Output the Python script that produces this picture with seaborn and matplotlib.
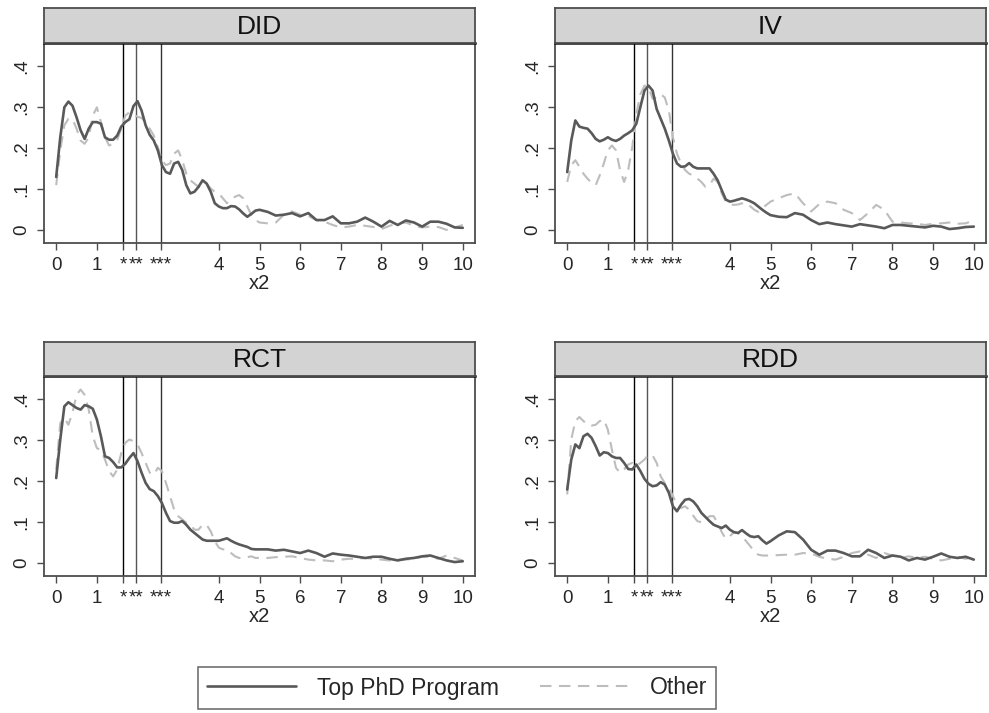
import numpy as np
import pandas as pd
import matplotlib
matplotlib.use("Agg")
import matplotlib.pyplot as plt
from matplotlib.lines import Line2D
import seaborn as sns

# ---------------- data ----------------
x_grid = [round(v, 1) for v in list(np.arange(0, 5.05, 0.1))] + \
         [5.2, 5.4, 5.6, 5.8, 6.0, 6.2, 6.4, 6.6, 6.8, 7.0, 7.2, 7.4, 7.6, 7.8,
          8.0, 8.2, 8.4, 8.6, 8.8, 9.0, 9.2, 9.4, 9.6, 9.8, 10.0]

panels = ["DID", "IV", "RCT", "RDD"]
groups = ["Top PhD Program", "Other"]

did_top = [0.129, 0.226, 0.299, 0.313, 0.303, 0.275, 0.243, 0.222, 0.247, 0.263,
           0.263, 0.259, 0.226, 0.220, 0.220, 0.230, 0.252, 0.263, 0.270, 0.302,
           0.314, 0.291, 0.255, 0.232, 0.218, 0.194, 0.158, 0.141, 0.137, 0.162,
           0.166, 0.146, 0.109, 0.089, 0.093, 0.105, 0.121, 0.113, 0.093, 0.065,
           0.057, 0.053, 0.053, 0.058, 0.057, 0.050, 0.040, 0.032, 0.039, 0.047,
           0.049, 0.044, 0.035, 0.037, 0.041, 0.033, 0.041, 0.024, 0.024, 0.033,
           0.016, 0.016, 0.020, 0.030, 0.020, 0.008, 0.022, 0.012, 0.023, 0.018,
           0.008, 0.020, 0.020, 0.015, 0.006, 0.005, 0.002]
did_other = [0.109, 0.194, 0.255, 0.271, 0.271, 0.247, 0.218, 0.210, 0.226, 0.279,
             0.299, 0.263, 0.226, 0.206, 0.210, 0.220, 0.247, 0.279, 0.287, 0.281,
             0.276, 0.273, 0.263, 0.247, 0.230, 0.202, 0.170, 0.158, 0.162, 0.186,
             0.194, 0.170, 0.137, 0.121, 0.113, 0.105, 0.105, 0.113, 0.101, 0.093,
             0.089, 0.077, 0.065, 0.073, 0.081, 0.085, 0.077, 0.057, 0.036, 0.024,
             0.018, 0.016, 0.018, 0.037, 0.045, 0.037, 0.034, 0.024, 0.020, 0.012,
             0.006, 0.008, 0.012, 0.010, 0.007, 0.002, 0.010, 0.016, 0.018, 0.010,
             0.006, 0.008, 0.007, 0.000, 0.006, 0.012, 0.010]

iv_top = [0.141, 0.218, 0.267, 0.252, 0.249, 0.247, 0.236, 0.222, 0.216, 0.220,
          0.226, 0.220, 0.217, 0.222, 0.230, 0.236, 0.243, 0.259, 0.300, 0.340,
          0.352, 0.340, 0.295, 0.271, 0.247, 0.218, 0.186, 0.162, 0.154, 0.155,
          0.163, 0.154, 0.150, 0.150, 0.150, 0.150, 0.137, 0.121, 0.097, 0.074,
          0.069, 0.071, 0.074, 0.077, 0.074, 0.070, 0.065, 0.057, 0.049, 0.042,
          0.036, 0.032, 0.031, 0.041, 0.037, 0.024, 0.014, 0.018, 0.014, 0.011,
          0.008, 0.014, 0.011, 0.008, 0.004, 0.012, 0.012, 0.010, 0.008, 0.006,
          0.010, 0.008, 0.002, 0.004, 0.007, 0.008, 0.003]
iv_other = [0.117, 0.158, 0.170, 0.154, 0.137, 0.125, 0.115, 0.109, 0.133, 0.162,
            0.194, 0.206, 0.194, 0.146, 0.117, 0.146, 0.202, 0.283, 0.331, 0.352,
            0.348, 0.320, 0.323, 0.331, 0.323, 0.291, 0.226, 0.186, 0.162, 0.146,
            0.137, 0.133, 0.125, 0.117, 0.105, 0.109, 0.125, 0.117, 0.089, 0.069,
            0.062, 0.061, 0.062, 0.065, 0.057, 0.058, 0.049, 0.044, 0.053, 0.061,
            0.069, 0.077, 0.085, 0.089, 0.065, 0.045, 0.063, 0.069, 0.065, 0.049,
            0.041, 0.024, 0.041, 0.061, 0.049, 0.020, 0.018, 0.016, 0.015, 0.012,
            0.015, 0.016, 0.018, 0.015, 0.016, 0.023, 0.018]

rct_top = [0.207, 0.301, 0.382, 0.392, 0.385, 0.378, 0.374, 0.385, 0.382, 0.376,
           0.350, 0.309, 0.260, 0.256, 0.246, 0.233, 0.233, 0.242, 0.256, 0.268,
           0.248, 0.220, 0.195, 0.180, 0.175, 0.163, 0.146, 0.122, 0.102, 0.098,
           0.098, 0.102, 0.093, 0.081, 0.073, 0.065, 0.057, 0.054, 0.054, 0.054,
           0.054, 0.057, 0.060, 0.054, 0.049, 0.045, 0.042, 0.039, 0.034, 0.033,
           0.033, 0.033, 0.030, 0.032, 0.028, 0.024, 0.030, 0.024, 0.015, 0.023,
           0.020, 0.018, 0.015, 0.012, 0.015, 0.015, 0.010, 0.006, 0.010, 0.012,
           0.016, 0.018, 0.012, 0.006, 0.002, 0.004, 0.004]
rct_other = [0.228, 0.341, 0.354, 0.337, 0.366, 0.410, 0.423, 0.410, 0.374, 0.309,
             0.280, 0.275, 0.252, 0.224, 0.211, 0.228, 0.268, 0.293, 0.301, 0.297,
             0.289, 0.268, 0.244, 0.220, 0.215, 0.232, 0.224, 0.195, 0.163, 0.130,
             0.114, 0.106, 0.098, 0.093, 0.081, 0.081, 0.093, 0.093, 0.077, 0.053,
             0.037, 0.033, 0.033, 0.024, 0.016, 0.012, 0.012, 0.014, 0.016, 0.012,
             0.012, 0.012, 0.014, 0.015, 0.016, 0.012, 0.008, 0.006, 0.006, 0.004,
             0.008, 0.010, 0.010, 0.012, 0.010, 0.008, 0.006, 0.008, 0.008, 0.010,
             0.015, 0.015, 0.010, 0.018, 0.012, 0.006, 0.006]

rdd_top = [0.179, 0.252, 0.289, 0.280, 0.309, 0.315, 0.305, 0.285, 0.262, 0.270,
           0.268, 0.260, 0.256, 0.256, 0.244, 0.229, 0.228, 0.240, 0.224, 0.205,
           0.193, 0.187, 0.189, 0.197, 0.191, 0.171, 0.138, 0.126, 0.142, 0.154,
           0.156, 0.150, 0.138, 0.122, 0.112, 0.102, 0.093, 0.089, 0.085, 0.091,
           0.081, 0.075, 0.073, 0.080, 0.072, 0.065, 0.063, 0.065, 0.055, 0.047,
           0.053, 0.067, 0.077, 0.075, 0.057, 0.032, 0.020, 0.030, 0.030, 0.024,
           0.016, 0.016, 0.032, 0.024, 0.012, 0.018, 0.015, 0.006, 0.012, 0.008,
           0.015, 0.023, 0.015, 0.012, 0.015, 0.008, 0.002]
rdd_other = [0.167, 0.301, 0.346, 0.356, 0.346, 0.337, 0.335, 0.337, 0.346, 0.350,
             0.325, 0.276, 0.232, 0.220, 0.228, 0.240, 0.244, 0.236, 0.244, 0.252,
             0.264, 0.262, 0.244, 0.211, 0.195, 0.183, 0.163, 0.142, 0.134, 0.138,
             0.130, 0.115, 0.102, 0.099, 0.106, 0.114, 0.114, 0.098, 0.075, 0.059,
             0.065, 0.075, 0.073, 0.065, 0.053, 0.041, 0.028, 0.020, 0.018, 0.018,
             0.018, 0.019, 0.020, 0.020, 0.024, 0.023, 0.015, 0.010, 0.008, 0.015,
             0.024, 0.028, 0.020, 0.012, 0.024, 0.018, 0.012, 0.016, 0.012, 0.015,
             0.010, 0.006, 0.010, 0.015, 0.010, 0.015, 0.008]

series = {
    "DID": (did_top, did_other),
    "IV": (iv_top, iv_other),
    "RCT": (rct_top, rct_other),
    "RDD": (rdd_top, rdd_other),
}

crit_values = [1.645, 1.96, 2.576]
x_ticks = [0, 1, 1.645, 1.96, 2.576, 4, 5, 6, 7, 8, 9, 10]
x_tick_labels = ["0", "1", "*", "**", "***", "4", "5", "6", "7", "8", "9", "10"]
y_ticks = [0, 0.1, 0.2, 0.3, 0.4]
y_tick_labels = ["0", ".1", ".2", ".3", ".4"]

rows = []
for p in panels:
    top, oth = series[p]
    for g, vals in zip(groups, (top, oth)):
        for xv, yv in zip(x_grid, vals):
            rows.append({"panel": p, "group": g, "x2": xv, "density": yv})
df = pd.DataFrame(rows)

# ---------------- style ----------------
sns.set_theme(style="white")
plt.rcParams["font.family"] = ["Liberation Sans", "DejaVu Sans"]

W, H = 989, 713
fig = plt.figure(figsize=(W / 100, H / 100), dpi=100)
fig.patch.set_facecolor("white")

pal = {"Top PhD Program": "#595959", "Other": "#bdbdbd"}
dash = {"Top PhD Program": "", "Other": (5.5, 3.6)}

# pixel boxes: (left, right, strip_top, plot_top, plot_bottom)
boxes = {
    "DID": (44, 475, 8, 43, 243),
    "IV": (555, 986, 8, 43, 243),
    "RCT": (44, 475, 342, 376, 576),
    "RDD": (555, 986, 342, 376, 576),
}

frame_col = "#4d4d4d"

for p in panels:
    l, r, st, pt, pb = boxes[p]
    ax = fig.add_axes([l / W, 1 - pb / H, (r - l) / W, (pb - pt) / H])
    sub = df[df["panel"] == p]
    for vx, vc in zip(crit_values, ["#000000", "#555555", "#333333"]):
        ax.axvline(vx, color=vc, lw=1.0, zorder=1)
    sns.lineplot(data=sub, x="x2", y="density", hue="group", style="group",
                 palette=pal, dashes=dash, hue_order=groups, style_order=groups,
                 ax=ax, legend=False, linewidth=1.6, estimator=None, sort=False)
    ax.lines[-1].set_zorder(2)
    ax.lines[-2].set_zorder(3)
    ax.lines[-1].set_linewidth(1.5)
    ax.lines[-2].set_linewidth(1.9)
    ax.set_xlim(-0.3, 10.3)
    ax.set_ylim(-0.032, 0.456)
    ax.set_xticks(x_ticks)
    ax.set_xticklabels(x_tick_labels, fontsize=13.5)
    ax.set_yticks(y_ticks)
    ax.set_yticklabels(y_tick_labels, fontsize=13.5, rotation=90, va="center")
    ax.tick_params(axis="both", which="both", direction="out", length=5,
                   width=1.0, color=frame_col, pad=5, bottom=True, left=True)
    ax.set_xlabel("x2", fontsize=14.5, labelpad=0)
    ax.set_ylabel("")
    for s in ax.spines.values():
        s.set_color(frame_col)
        s.set_linewidth(1.3)
    ax.spines["top"].set_color("#111111")
    ax.spines["top"].set_linewidth(1.8)

    sax = fig.add_axes([l / W, 1 - pt / H, (r - l) / W, (pt - st) / H])
    sax.set_facecolor("#d3d3d3")
    sax.set_xticks([])
    sax.set_yticks([])
    for s in sax.spines.values():
        s.set_color(frame_col)
        s.set_linewidth(1.3)
    sax.text(0.5, 0.47, p, ha="center", va="center", fontsize=19,
             transform=sax.transAxes, color="#111111")

handles = [Line2D([0], [0], color=pal["Top PhD Program"], lw=1.9),
           Line2D([0], [0], color=pal["Other"], lw=1.5, dashes=(5.5, 3.6))]
leg = fig.legend(handles, groups, loc="center", ncol=2,
                 bbox_to_anchor=(457 / W, 1 - 688 / H), fontsize=16.5,
                 frameon=True, fancybox=False, handlelength=3.9,
                 columnspacing=1.8, handletextpad=0.9, borderpad=0.4,
                 borderaxespad=0)
leg.get_frame().set_edgecolor(frame_col)
leg.get_frame().set_linewidth(1.2)

fig.savefig("out.png", dpi=100, facecolor="white")
